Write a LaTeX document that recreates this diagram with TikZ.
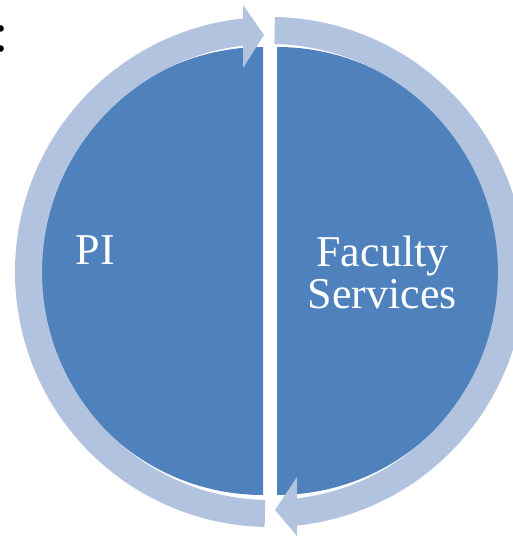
\documentclass[tikz,border=0pt]{standalone}
\usepackage{fontspec}
\setmainfont{Liberation Serif}
\definecolor{darkseg}{HTML}{4F81BD}
\definecolor{ringcol}{HTML}{B2C3DF}
\begin{document}
\begin{tikzpicture}[x=1pt,y=1pt,
  seg/.style={fill=darkseg,draw=none},
  ringarrow/.style={fill=ringcol,draw=none},
  lbl/.style={text=white,font=\fontsize{44}{42}\selectfont,inner sep=0pt,align=center}]
\useasboundingbox (0,0) rectangle (513,541);
% half disks
\fill[seg] (263,270) -- (263,494) arc[start angle=90,end angle=270,radius=224] -- cycle;
\fill[seg] (277,270) -- (277,494) arc[start angle=90,end angle=-90,radius=224] -- cycle;
% circular arrows
\begin{scope}[shift={(270,269)}]
\fill[ringarrow] (268.8:228) arc[start angle=268.8,end angle=96.8,radius=228]
  -- (-27,204) -- (-6,237) -- (-27,267) -- (96.08:255)
  arc[start angle=96.08,end angle=268.8,radius=255] -- cycle;
\fill[ringarrow] (88.9:255) arc[start angle=88.9,end angle=-83.92,radius=255]
  -- (27,-264) -- (5,-238) -- (27,-205) -- (-83.2:228)
  arc[start angle=-83.2,end angle=88.9,radius=228] -- cycle;
\end{scope}
% labels
\node[lbl,anchor=base west] (pi) at (75.5,276) {PI};
\node[lbl,anchor=center] (fs) at (382.5,268.5) {Faculty\\Services};
\node[inner sep=0pt,anchor=base west,font=\fontsize{55}{60}\selectfont] (colon) at (-6.6,489) {:};
\end{tikzpicture}
\end{document}
